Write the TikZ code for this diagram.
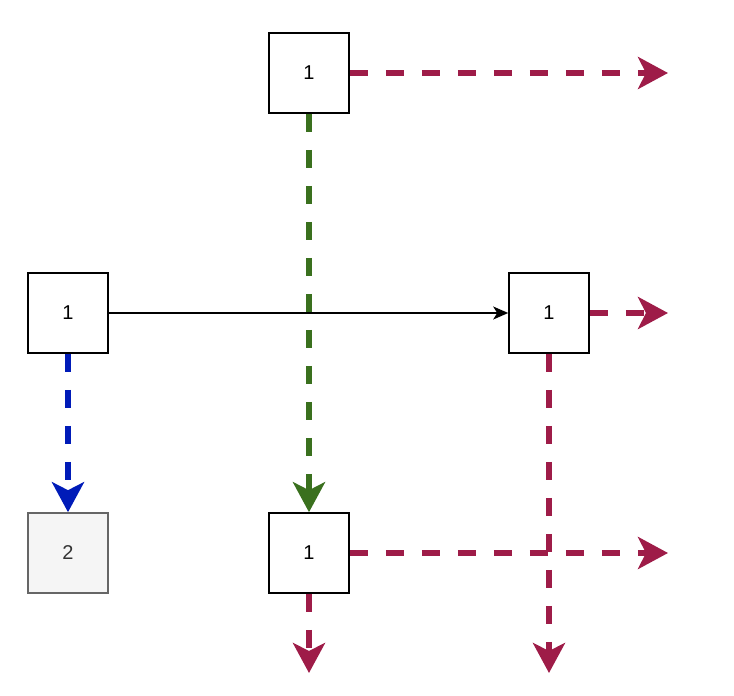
\documentclass[tikz,border=0pt]{standalone}
\usepackage{fontspec}
\setmainfont{Liberation Sans}
\usepackage{xcolor}
\usetikzlibrary{arrows.meta}

\definecolor{crimsonline}{RGB}{158,28,72}
\definecolor{greenline}{RGB}{58,112,30}
\definecolor{blueline}{RGB}{0,27,184}
\definecolor{greyfill}{RGB}{245,245,245}
\definecolor{greydraw}{RGB}{102,102,102}
\definecolor{greytext}{RGB}{51,51,51}

\tikzset{
	cell/.style={draw, line width=1.6pt, minimum size=80pt, inner sep=0pt, font=\fontsize{20}{22}\selectfont},
	greycell/.style={cell, fill=greyfill, draw=greydraw, text=greytext},
	bigdash/.style={line width=5.5pt, dash pattern=on 18pt off 18pt, -{Stealth[length=30pt,width=32pt,inset=8pt]}},
}

\begin{document}
\begin{tikzpicture}[x=1pt,y=-1pt]
	\useasboundingbox (0,0) rectangle (734,696);
	
	\node[cell] (top) at (309,73) {1};
	\node[cell] (left) at (68,313) {1};
	\node[cell] (right) at (549,313) {1};
	\node[cell] (bottom) at (309,553) {1};
	\node[greycell] (two) at (68,553) {2};
	
	\coordinate (topend) at (668,73);
	\coordinate (rightend) at (668,313);
	\coordinate (rightdown) at (549,673);
	\coordinate (bottomend) at (668,553);
	\coordinate (bottomdown) at (309,673);
	
	\draw[line width=1.6pt,-{Stealth[length=15pt,width=13pt,inset=4pt]}] (left.east) -- (right.west);
	\draw[bigdash,greenline] (top.south) -- (bottom.north);
	\draw[bigdash,blueline] (left.south) -- (two.north);
	
	\draw[bigdash,crimsonline] (top.east) -- (topend);
	\draw[bigdash,crimsonline] (right.east) -- (rightend);
	\draw[bigdash,crimsonline] (right.south) -- (rightdown);
	\draw[bigdash,crimsonline] (bottom.east) -- (bottomend);
	\draw[bigdash,crimsonline] (bottom.south) -- (bottomdown);
\end{tikzpicture}
\end{document}
